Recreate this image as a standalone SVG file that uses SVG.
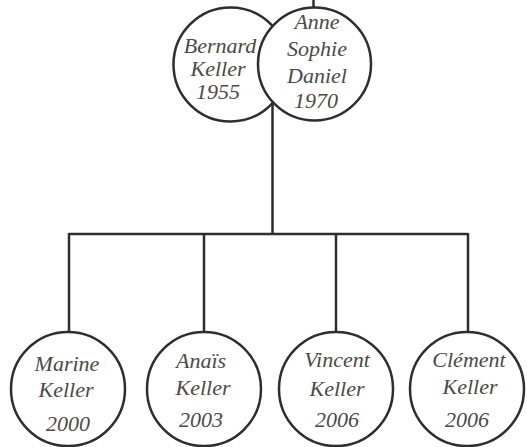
<svg xmlns="http://www.w3.org/2000/svg" width="527" height="447" viewBox="0 0 527 447">
<style>
.c{fill:#fff;stroke:#2e2e2e;stroke-width:2.5}
.l{fill:none;stroke:#2e2e2e;stroke-width:2.5}
text{font-family:"Liberation Serif","DejaVu Serif",serif;font-style:italic;font-size:22px;fill:#4a4a4a;text-anchor:middle}
</style>
<rect width="527" height="447" fill="#fff"/>
<g id="connectors">
<line class="l" x1="313.5" y1="0" x2="313.5" y2="8"/>
<line class="l" x1="272.5" y1="103" x2="272.5" y2="234"/>
<line class="l" x1="69" y1="234" x2="468" y2="234"/>
<line class="l" x1="69" y1="233" x2="69" y2="334"/>
<line class="l" x1="204" y1="233" x2="204" y2="334"/>
<line class="l" x1="336" y1="233" x2="336" y2="334"/>
<line class="l" x1="468" y1="233" x2="468" y2="334"/>
</g>
<g id="bernard">
<circle class="c" cx="230.5" cy="64.5" r="57"/>
<text x="220" y="53">Bernard</text>
<text x="218" y="76">Keller</text>
<text x="218" y="99">1955</text>
</g>
<g id="anne">
<circle class="c" cx="314.5" cy="64" r="56.5"/>
<text x="317" y="29">Anne</text>
<text x="317" y="56">Sophie</text>
<text x="317" y="83">Daniel</text>
<text x="316" y="108">1970</text>
</g>
<g id="marine">
<circle class="c" cx="68" cy="389" r="57"/>
<text x="67" y="371">Marine</text>
<text x="66" y="397">Keller</text>
<text x="68" y="431">2000</text>
</g>
<g id="anais">
<circle class="c" cx="204" cy="389" r="57"/>
<text x="201" y="368">Anaïs</text>
<text x="203" y="395">Keller</text>
<text x="201" y="427">2003</text>
</g>
<g id="vincent">
<circle class="c" cx="336" cy="389" r="57"/>
<text x="337" y="367">Vincent</text>
<text x="337" y="396">Keller</text>
<text x="337" y="427">2006</text>
</g>
<g id="clement">
<circle class="c" cx="467" cy="389" r="57"/>
<text x="469" y="367">Clément</text>
<text x="470" y="394">Keller</text>
<text x="467" y="427">2006</text>
</g>
</svg>
